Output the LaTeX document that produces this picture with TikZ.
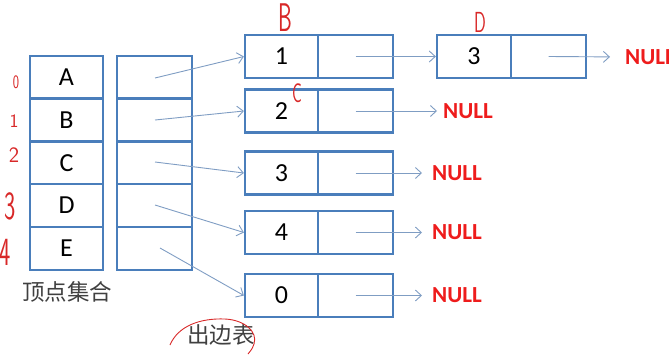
\documentclass[tikz,border=0pt]{standalone}
\usepackage{fontspec}
\setmainfont{Carlito}
\newfontfamily\cjk{Noto Sans CJK SC}
\usetikzlibrary{arrows.meta}
\definecolor{boxblue}{HTML}{4A7EBB}
\definecolor{arrblue}{HTML}{7F9DC3}
\definecolor{nullred}{HTML}{EE1C1C}
\definecolor{inkred}{HTML}{D82828}
\definecolor{txtgray}{HTML}{404040}
\begin{document}
\begin{tikzpicture}[x=1pt,y=-1pt,
  cell/.style={draw=boxblue,line width=2.2pt,minimum height=43pt,inner sep=0pt,
    font=\fontsize{26}{26}\selectfont},
  vcell/.style={cell,minimum width=73pt},
  pcell/.style={cell,minimum width=75pt},
  dcell/.style={cell,minimum width=73pt},
  ncell/.style={cell,minimum width=75pt},
  arr/.style={draw=arrblue,line width=0.9pt,-{Straight Barb[length=6pt,width=11pt,line width=0.9pt]}},
  nullt/.style={anchor=west,inner sep=0pt,text=nullred,font=\fontsize{23}{23}\selectfont\bfseries},
  cjkt/.style={text=txtgray,inner sep=0pt,font=\cjk\fontsize{22.5}{22.5}\selectfont},
  ink/.style={text=inkred,inner sep=0pt,font=\sffamily},
]
\useasboundingbox (0,0) rectangle (669,354);

% vertex table
\node[vcell] (vA) at (66.5,77.3) {A};
\node[vcell] (vB) at (66.5,120) {B};
\node[vcell] (vC) at (66.5,162.7) {C};
\node[vcell] (vD) at (66.5,205.4) {D};
\node[vcell] (vE) at (66.5,248.1) {E};
\node[pcell] (pA) at (154.5,77.3) {};
\node[pcell] (pB) at (154.5,120) {};
\node[pcell] (pC) at (154.5,162.7) {};
\node[pcell] (pD) at (154.5,205.4) {};
\node[pcell] (pE) at (154.5,248.1) {};
\coordinate (sA) at (155,78);
\coordinate (sB) at (155,120);
\coordinate (sC) at (155,162);
\coordinate (sD) at (155,205);
\coordinate (sE) at (160,248);

% edge lists
\node[dcell] (d1) at (281.5,56.5) {1};
\node[ncell] (n1) at (355.5,56.5) {};
\node[dcell] (d2) at (281.5,111) {2};
\node[ncell] (n2) at (355.5,111) {};
\node[dcell] (d3) at (281.5,173) {3};
\node[ncell] (n3) at (355.5,173) {};
\node[dcell] (d4) at (281.5,232.5) {4};
\node[ncell] (n4) at (355.5,232.5) {};
\node[dcell] (d0) at (281.5,295.5) {0};
\node[ncell] (n0) at (355.5,295.5) {};
\node[cell,minimum width=74pt] (dD) at (474,56.5) {3};
\node[ncell] (nD) at (548.5,56.5) {};

\node[nullt] (nullD) at (625,57) {NULL};
\node[nullt] (null2) at (443,111) {NULL};
\node[nullt] (null3) at (432,173) {NULL};
\node[nullt] (null4) at (432,232.5) {NULL};
\node[nullt] (null0) at (432,295.5) {NULL};

% connectors
\draw[arr] (sA) -- (d1.west);
\draw[arr] (sB) -- (d2.west);
\draw[arr] (sC) -- (d3.west);
\draw[arr] (sD) -- (d4.west);
\draw[arr] (sE) -- (d0.west);
\draw[arr] (n1.center) -- (dD.west);
\draw[arr,shorten >=15pt] (nD.center) -- (nullD.west);
\draw[arr,shorten >=6pt] (n2.center) -- (null2.west);
\draw[arr,shorten >=10pt] (n3.center) -- (null3.west);
\draw[arr,shorten >=10pt] (n4.center) -- (null4.west);
\draw[arr,shorten >=10pt] (n0.center) -- (null0.west);

% captions
\node[cjkt] (cap1) at (67,292) {顶点集合};
\node[cjkt] (cap2) at (221,335) {出边表};

% handwritten annotations
\node[ink,font=\sffamily\fontsize{40}{40}\selectfont,xscale=0.55] (hB) at (285,18) {B};
\node[ink,font=\sffamily\fontsize{27}{27}\selectfont,xscale=0.6] (hC) at (297,93) {C};
\node[ink,font=\sffamily\fontsize{29}{29}\selectfont,xscale=0.6] (hD) at (480,22) {D};
\node[ink,font=\sffamily\fontsize{19}{19}\selectfont,xscale=0.7] (h0) at (16,82) {0};
\node[ink,font=\sffamily\fontsize{19}{19}\selectfont] (h1) at (14,121) {1};
\node[ink,font=\sffamily\fontsize{22}{22}\selectfont] (h2) at (14,155) {2};
\node[ink,font=\sffamily\fontsize{40}{40}\selectfont,xscale=0.6] (h3) at (10,206) {3};
\node[ink,font=\sffamily\fontsize{40}{40}\selectfont,xscale=0.6] (h4) at (5,252) {4};
\draw[inkred,line width=0.9pt] (170,345) .. controls (178,326) and (200,318) .. (225,319)
  .. controls (245,320) and (258,332) .. (254,344) .. controls (252,349) .. (248,354);
\end{tikzpicture}
\end{document}
